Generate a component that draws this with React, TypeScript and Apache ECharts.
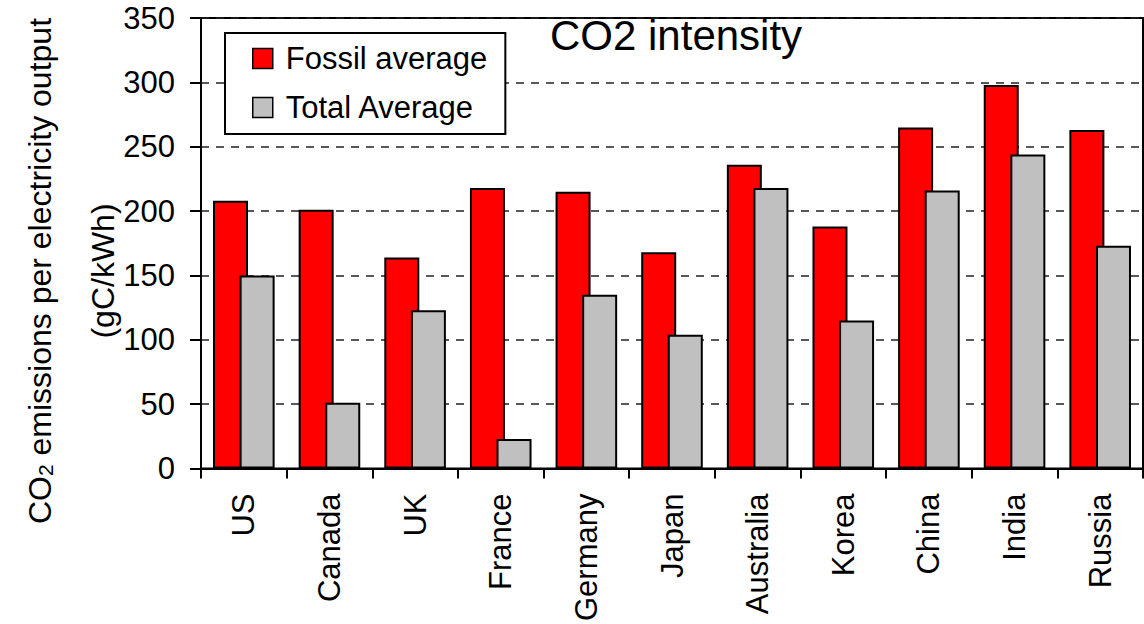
import React, { useEffect, useRef } from "react";
import * as echarts from "echarts";

// Countries along the category axis
const categories = [
  "US",
  "Canada",
  "UK",
  "France",
  "Germany",
  "Japan",
  "Australia",
  "Korea",
  "China",
  "India",
  "Russia",
];

// gC/kWh, average of fossil-fuelled generation
const fossilAverage = [208, 201, 164, 218, 215, 168, 236, 188, 265, 298, 263];

// gC/kWh, average over all generation
const totalAverage = [150, 51, 123, 23, 135, 104, 218, 115, 216, 244, 173];

// Value axis range
const yMin = 0;
const yMax = 350;
const yStep = 50;

const FONT = "'Liberation Sans', Arial, Helvetica, sans-serif";

export default function App() {
  const ref = useRef<HTMLDivElement>(null);

  useEffect(() => {
    if (!ref.current) return;
    const chart = echarts.init(ref.current, null, { renderer: "svg" });

    chart.setOption({
      animation: false,
      backgroundColor: "#fff",
      textStyle: { fontFamily: FONT },
      title: {
        text: "CO2 intensity",
        left: 550,
        top: 14,
        padding: 0,
        textStyle: {
          fontFamily: FONT,
          fontSize: 42,
          fontWeight: "normal",
          color: "#000",
        },
      },
      legend: {
        orient: "vertical",
        left: 225,
        top: 33,
        padding: [10, 18, 11, 27],
        itemGap: 18,
        itemWidth: 20,
        itemHeight: 20,
        icon: "rect",
        backgroundColor: "#fff",
        borderColor: "#000",
        borderWidth: 2,
        borderRadius: 0,
        itemStyle: { borderColor: "#000", borderWidth: 1.5 },
        textStyle: {
          fontFamily: FONT,
          fontSize: 31,
          lineHeight: 31,
          color: "#000",
          padding: [0, 0, 0, 8],
        },
        data: ["Fossil average", "Total Average"],
      },
      grid: {
        left: 201,
        right: 1,
        top: 18,
        bottom: 153,
        show: true,
        borderColor: "#000",
        borderWidth: 2,
        backgroundColor: "transparent",
      },
      xAxis: {
        type: "category",
        data: categories,
        boundaryGap: true,
        axisLine: { show: true, lineStyle: { color: "#000", width: 2 } },
        axisTick: {
          show: true,
          alignWithLabel: false,
          length: 10,
          lineStyle: { color: "#000", width: 2 },
        },
        axisLabel: {
          rotate: 90,
          margin: 25,
          interval: 0,
          fontFamily: FONT,
          fontSize: 31,
          color: "#000",
        },
        splitLine: { show: false },
      },
      yAxis: {
        type: "value",
        min: yMin,
        max: yMax,
        interval: yStep,
        axisLine: { show: true, lineStyle: { color: "#000", width: 2 } },
        axisTick: {
          show: true,
          length: 11,
          lineStyle: { color: "#000", width: 2 },
        },
        axisLabel: {
          margin: 26,
          fontFamily: FONT,
          fontSize: 31,
          color: "#000",
        },
        splitLine: {
          show: true,
          lineStyle: { color: "#222", width: 1.5, type: [8, 7] },
        },
      },
      series: [
        {
          name: "Fossil average",
          type: "bar",
          data: fossilAverage,
          barWidth: 35,
          barGap: "-24%",
          itemStyle: { color: "#ff0000", borderColor: "#000", borderWidth: 2 },
        },
        {
          name: "Total Average",
          type: "bar",
          data: totalAverage,
          barWidth: 35,
          barGap: "-24%",
          itemStyle: { color: "#c0c0c0", borderColor: "#000", borderWidth: 2 },
        },
      ],
      graphic: [
        {
          type: "text",
          x: 40,
          y: 271,
          rotation: Math.PI / 2,
          style: {
            text: "{a|CO}{s|2}{a| emissions per electricity output}",
            align: "center",
            verticalAlign: "middle",
            fill: "#000",
            rich: {
              a: { fontFamily: FONT, fontSize: 32, lineHeight: 32, fill: "#000" },
              s: {
                fontFamily: FONT,
                fontSize: 21,
                lineHeight: 21,
                verticalAlign: "bottom",
                fill: "#000",
              },
            },
          },
        },
        {
          type: "text",
          x: 103,
          y: 271,
          rotation: Math.PI / 2,
          style: {
            text: "(gC/kWh)",
            align: "center",
            verticalAlign: "middle",
            fontFamily: FONT,
            fontSize: 32,
            fill: "#000",
          },
        },
      ],
    });

    return () => chart.dispose();
  }, []);

  return (
    <div
      ref={ref}
      style={{ position: "fixed", left: 0, top: 0, width: 1144, height: 624 }}
    />
  );
}
